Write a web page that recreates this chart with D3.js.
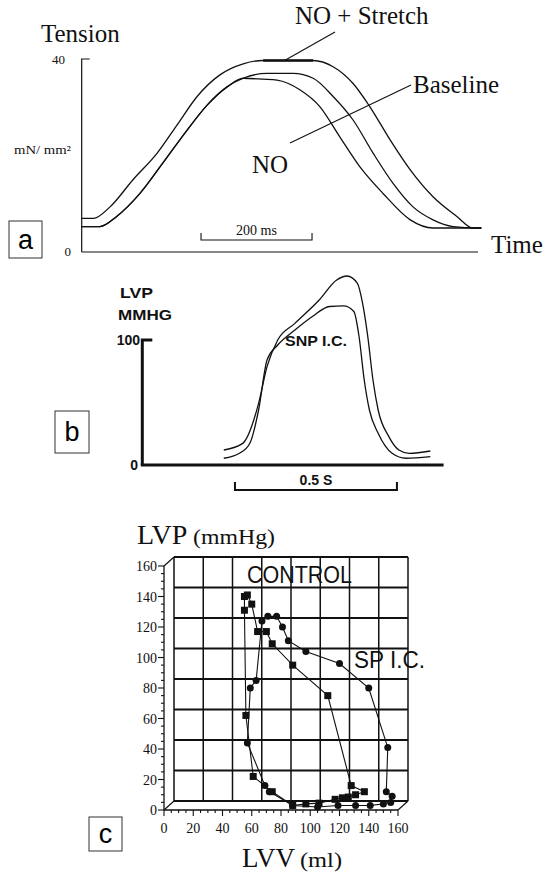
<!DOCTYPE html>
<html><head><meta charset="utf-8">
<script src="https://cdn.jsdelivr.net/npm/d3@7/dist/d3.min.js"></script>
<style>
html,body{margin:0;padding:0;background:#fff;}
svg{display:block;}
</style></head><body>
<svg id="fig" width="544" height="874"></svg>
<script>
// ---- Panel a: isometric tension (time in ms, tension in mN/mm²) ----
const stretchTrace = [[0,7],[21,7],[51,9.4],[92,15],[136,20.6],[172,26.5],[208,32.4],[249,36.9],[291,39.2],[327,39.9],[417,39.9],[453,38.6],[489,35.1],[519,30.3],[556,23.3],[592,17.1],[633,11.5],[676,7.4],[705,5],[720,5]];
const baselineTrace = [[0,5.3],[33,5.3],[63,7.4],[105,12.2],[146,18.5],[190,25.4],[226,30.6],[262,34.4],[291,36.2],[334,37.2],[381,37.2],[417,36.2],[453,32.4],[489,27.5],[525,20.6],[561,14.3],[597,9.4],[633,6.7],[669,5.3],[712,5],[720,5]];
const noTrace = [[0,5.3],[33,5.3],[63,7.4],[105,12.2],[146,18.5],[190,25.4],[226,30.6],[262,34.4],[291,36.2],[327,36.0],[352,35.8],[393,33.8],[429,30.3],[465,24],[501,17.8],[543,12.2],[592,6.7],[633,5],[720,5]];
const tensionTicks = [0, 40];
const tensionScaleBar = [215, 415];          // 200 ms

// ---- Panel b: LV pressure (time in s, mmHg) ----
const lvpControl = [[0.2515,12],[0.310,17.3],[0.359,49.3],[0.385,78.7],[0.418,100],[0.471,113.3],[0.546,132],[0.600,148],[0.632,151.2],[0.664,145.3],[0.680,129.3],[0.696,102.7],[0.712,68],[0.728,44],[0.761,22.7],[0.792,12],[0.824,9.3],[0.889,11.2]];
const lvpSNP = [[0.2515,5.4],[0.300,9.4],[0.332,17.4],[0.359,44],[0.385,84],[0.418,96],[0.471,108],[0.525,118.8],[0.578,126.8],[0.621,127.3],[0.653,122.8],[0.669,102.8],[0.685,68],[0.701,44],[0.728,25.4],[0.771,9.4],[0.814,5.4],[0.889,6.7]];
const lvpTicks = [0, 100];
const lvpScaleBar = [0.286, 0.786];          // 0.5 s

// ---- Panel c: pressure-volume loops (LVV ml, LVP mmHg) ----
const controlLoop = [[55,131],[55,140],[57,141],[60,135],[64,117],[70,117],[74,109],[88,95],[112,75],[128,16],[137,12],[131,10],[126,8.5],[122,8],[117,7],[106,4.5],[97,4],[88,3],[74,12],[61,22],[56,62],[55,131]];
const snpLoop = [[67,124],[71,127],[77,127],[81,120],[85,111],[97,104],[120,96],[140,80],[153,41],[152,12],[156,9],[155,5],[150,4],[141,3],[131,3],[119,3],[105,2],[88,3],[72,12],[69,16],[57,44],[59,80],[63,85],[67,124]];
const pvTicks = [0, 20, 40, 60, 80, 100, 120, 140, 160];

const svg = d3.select("#fig");
const serif = "'Liberation Serif', 'Times New Roman', serif";
const sans = "'Liberation Sans', Arial, sans-serif";

function panelTag(x, y, w, h, letter) {
  svg.append("rect").attr("x", x).attr("y", y).attr("width", w).attr("height", h)
    .attr("fill", "#fff").attr("stroke", "#333").attr("stroke-width", 1);
  svg.append("text").attr("x", x + w / 2).attr("y", y + h / 2 + 9).attr("text-anchor", "middle")
    .attr("font-family", sans).attr("font-size", 27).text(letter);
}

// ================= Panel a =================
{
  const x = d3.scaleLinear().domain([0, 720]).range([81.7, 481.3]);
  const y = d3.scaleLinear().domain([0, 40]).range([252, 60]);
  const g = svg.append("g").attr("fill", "none").attr("stroke", "#111");

  // axes
  g.append("path").attr("stroke-width", 1.2)
    .attr("d", `M${x(0)},${y(0)}V${y(40) - 1}H${x(0) + 8}`);
  g.append("path").attr("stroke-width", 1.2)
    .attr("d", `M${x(0)},${y(0)}H${x(714)}`);

  const line = d3.line().x(d => x(d[0])).y(d => y(d[1])).curve(d3.curveMonotoneX);
  [stretchTrace, baselineTrace, noTrace].forEach(tr =>
    g.append("path").attr("d", line(tr)).attr("stroke-width", 1.3));
  // plateau of the stretched trace
  g.append("path").attr("stroke-width", 2.6)
    .attr("d", line(stretchTrace.filter(d => d[0] >= 327 && d[0] <= 417)));

  // 200 ms bar
  g.append("path").attr("stroke-width", 1.1)
    .attr("d", `M${x(tensionScaleBar[0])},${y(0) - 19}V${y(0) - 12}H${x(tensionScaleBar[1])}V${y(0) - 19}`);

  // pointer lines
  g.append("path").attr("stroke-width", 1.1).attr("d", `M335,32L${x(380) - 8},${y(39.9)}`);
  g.append("path").attr("stroke-width", 1.1).attr("d", `M411,85L290,143`);

  const t = svg.append("g").attr("font-family", serif).attr("fill", "#111");
  t.append("text").attr("x", 41).attr("y", 42).attr("font-size", 25).text("Tension");
  tensionTicks.forEach(v => t.append("text").attr("x", v === 0 ? 71 : 65).attr("y", y(v) + 4)
    .attr("text-anchor", "end").attr("font-size", 13).text(v));
  t.append("text").attr("x", 14).attr("y", 154).attr("font-size", 13).attr("textLength", 57)
    .attr("lengthAdjust", "spacingAndGlyphs").text("mN/ mm²");
  t.append("text").attr("x", 295).attr("y", 24).attr("font-size", 25).text("NO + Stretch");
  t.append("text").attr("x", 413).attr("y", 93).attr("font-size", 25).text("Baseline");
  t.append("text").attr("x", 252).attr("y", 173).attr("font-size", 25).text("NO");
  t.append("text").attr("x", 491).attr("y", 253).attr("font-size", 25).text("Time");
  t.append("text").attr("x", (x(tensionScaleBar[0]) + x(tensionScaleBar[1])) / 2).attr("y", y(0) - 17)
    .attr("text-anchor", "middle").attr("font-size", 14).text("200 ms");

  panelTag(9, 221, 33, 37, "a");
}

// ================= Panel b =================
{
  const x = d3.scaleLinear().domain([0, 0.93]).range([142.3, 443.6]);
  const y = d3.scaleLinear().domain([0, 100]).range([465, 340]);
  const g = svg.append("g").attr("fill", "none").attr("stroke", "#111");

  g.append("path").attr("stroke-width", 3)
    .attr("d", `M${x(0)},${y(0)}V${y(100)}H${x(0) + 10}`);
  g.append("path").attr("stroke-width", 3)
    .attr("d", `M${x(0) - 1.5},${y(0)}H${x(0.93)}`);

  const line = d3.line().x(d => x(d[0])).y(d => y(d[1])).curve(d3.curveMonotoneX);
  [lvpControl, lvpSNP].forEach(tr =>
    g.append("path").attr("d", line(tr)).attr("stroke-width", 1.3));

  g.append("path").attr("stroke-width", 2)
    .attr("d", `M${x(lvpScaleBar[0])},${y(0) + 17}V${y(0) + 25}H${x(lvpScaleBar[1])}V${y(0) + 17}`);

  const t = svg.append("g").attr("font-family", sans).attr("font-weight", "bold").attr("fill", "#111");
  t.append("text").attr("x", 120).attr("y", 298).attr("font-size", 14).attr("textLength", 33)
    .attr("lengthAdjust", "spacingAndGlyphs").text("LVP");
  t.append("text").attr("x", 118).attr("y", 320).attr("font-size", 14).attr("textLength", 54)
    .attr("lengthAdjust", "spacingAndGlyphs").text("MMHG");
  lvpTicks.forEach(v => t.append("text").attr("x", v === 0 ? 138 : 140).attr("y", y(v) + 5)
    .attr("text-anchor", "end").attr("font-size", 14).text(v));
  t.append("text").attr("x", 285).attr("y", 346).attr("font-size", 14).attr("textLength", 62)
    .attr("lengthAdjust", "spacingAndGlyphs").text("SNP I.C.");
  t.append("text").attr("x", (x(lvpScaleBar[0]) + x(lvpScaleBar[1])) / 2).attr("y", y(0) + 20)
    .attr("text-anchor", "middle").attr("font-size", 14).text("0.5 S");

  panelTag(55, 411, 34, 42, "b");
}

// ================= Panel c =================
{
  const x = d3.scaleLinear().domain([0, 160]).range([164, 398]);
  const y = d3.scaleLinear().domain([0, 160]).range([810, 566]);
  const dx = 10, dy = -9;   // depth offset of the back wall
  const g = svg.append("g").attr("fill", "none").attr("stroke", "#111");

  // back wall grid
  pvTicks.forEach(v => {
    g.append("line").attr("stroke-width", 1.5)
      .attr("x1", x(v) + dx).attr("x2", x(v) + dx).attr("y1", y(0) + dy).attr("y2", y(160) + dy);
    g.append("line").attr("stroke-width", 1.8)
      .attr("x1", x(0) + dx).attr("x2", x(160) + dx).attr("y1", y(v) + dy).attr("y2", y(v) + dy);
  });
  // depth edges
  [[0, 0], [160, 0], [0, 160]].forEach(([vx, vy]) =>
    g.append("line").attr("stroke-width", 1.2)
      .attr("x1", x(vx)).attr("y1", y(vy)).attr("x2", x(vx) + dx).attr("y2", y(vy) + dy));
  // front axes
  g.append("line").attr("stroke-width", 1.3).attr("x1", x(0)).attr("x2", x(0)).attr("y1", y(0)).attr("y2", y(160));
  g.append("line").attr("stroke-width", 1.3).attr("x1", x(0)).attr("x2", x(160)).attr("y1", y(0)).attr("y2", y(0));
  // ticks
  d3.range(0, 161, 5).forEach(v => {
    const major = v % 20 === 0;
    g.append("line").attr("stroke-width", 1.1)
      .attr("x1", x(0)).attr("x2", x(0) - (major ? 6 : 3)).attr("y1", y(v)).attr("y2", y(v));
    g.append("line").attr("stroke-width", 1.1)
      .attr("x1", x(v)).attr("x2", x(v)).attr("y1", y(0)).attr("y2", y(0) + (major ? 6 : 3));
  });

  const line = d3.line().x(d => x(d[0])).y(d => y(d[1]));
  g.append("path").attr("d", line(controlLoop)).attr("stroke-width", 1.1);
  g.append("path").attr("d", line(snpLoop)).attr("stroke-width", 1.1);

  const m = svg.append("g").attr("fill", "#111");
  m.selectAll("rect.ctl").data(controlLoop.slice(0, -1)).join("rect")
    .attr("x", d => x(d[0]) - 3.5).attr("y", d => y(d[1]) - 3.5).attr("width", 7).attr("height", 7);
  m.selectAll("circle").data(snpLoop.slice(0, -1)).join("circle")
    .attr("cx", d => x(d[0])).attr("cy", d => y(d[1])).attr("r", 3.5);

  const t = svg.append("g").attr("font-family", serif).attr("fill", "#111");
  pvTicks.forEach(v => {
    t.append("text").attr("x", x(0) - 7).attr("y", y(v) + 5).attr("text-anchor", "end")
      .attr("font-size", 14).text(v);
    t.append("text").attr("x", x(v)).attr("y", y(0) + 23).attr("text-anchor", "middle")
      .attr("font-size", 14).text(v);
  });
  t.append("text").attr("x", 137).attr("y", 544).attr("font-size", 28).text("LVP");
  t.append("text").attr("x", 193).attr("y", 544).attr("font-size", 21).attr("textLength", 82)
    .attr("lengthAdjust", "spacingAndGlyphs").text("(mmHg)");
  t.append("text").attr("x", 242).attr("y", 867).attr("font-size", 27).text("LVV");
  t.append("text").attr("x", 300).attr("y", 867).attr("font-size", 21).attr("textLength", 42)
    .attr("lengthAdjust", "spacingAndGlyphs").text("(ml)");
  const s = svg.append("g").attr("font-family", sans).attr("fill", "#111");
  s.append("text").attr("x", 247).attr("y", 583).attr("font-size", 23)
    .attr("textLength", 105).attr("lengthAdjust", "spacingAndGlyphs").text("CONTROL");
  s.append("text").attr("x", 354).attr("y", 668).attr("font-size", 23)
    .attr("textLength", 71).attr("lengthAdjust", "spacingAndGlyphs").text("SP I.C.");

  panelTag(89, 817, 33, 34, "c");
}
</script>
</body></html>
